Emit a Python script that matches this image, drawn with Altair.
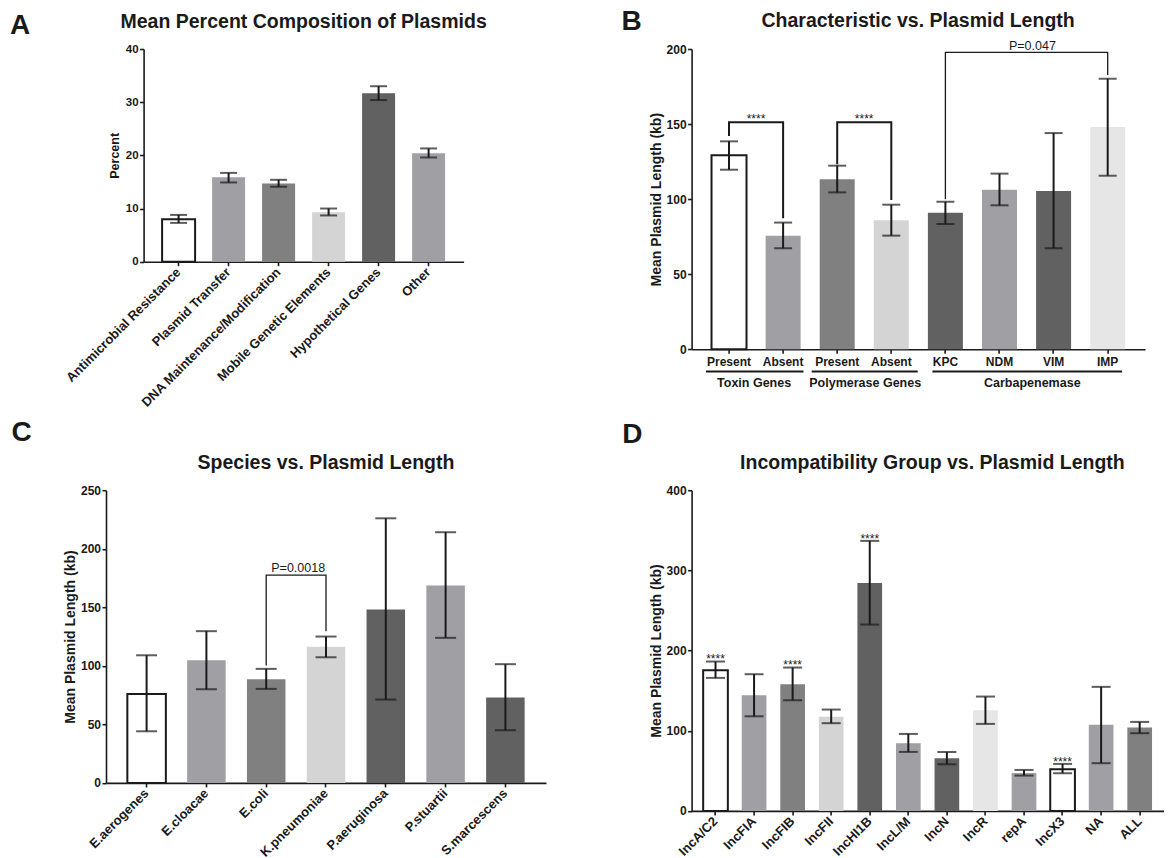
import altair as alt
import pandas as pd

FONT = "Liberation Sans"
INK = "#1a1a1a"
WHITE, G1, G2, G3, G4, G5 = "#ffffff", "#a0a0a4", "#808080", "#d4d4d4", "#616161", "#e6e6e6"

# ---------------- Panel A ----------------
a_cats = ["Antimicrobial Resistance", "Plasmid Transfer", "DNA Maintenance/Modification",
          "Mobile Genetic Elements", "Hypothetical Genes", "Other"]
a_mean = [8.0, 15.9, 14.7, 9.3, 31.7, 20.4]
a_lo = [7.3, 14.9, 14.1, 8.7, 30.4, 19.6]
a_hi = [8.8, 16.7, 15.4, 10.0, 33.0, 21.3]
a_fill = [WHITE, G1, G2, G3, G4, G1]
a_ticks = [0, 10, 20, 30, 40]

# ---------------- Panel B ----------------
b_labels = ["Present", "Absent", "Present", "Absent", "KPC", "NDM", "VIM", "IMP"]
b_group_of = ["T", "T", "P", "P", "C", "C", "C", "C"]
b_mean = [129.2, 75.7, 113.2, 85.9, 91.0, 106.3, 105.4, 148.0]
b_lo = [119.6, 67.3, 104.5, 75.7, 83.5, 95.9, 67.3, 115.6]
b_hi = [138.5, 84.4, 122.3, 96.3, 98.3, 117.0, 144.0, 180.2]
b_fill = [WHITE, G1, G2, G3, G4, G1, G4, G5]
b_ticks = [0, 50, 100, 150, 200]
b_groups = ["Toxin Genes", "Polymerase Genes", "Carbapenemase"]
b_group_keys = ["T", "P", "C"]
b_sig_left = ["T:Present", "P:Present"]
b_sig_right = ["T:Absent", "P:Absent"]
b_sig_top = [151.2, 151.2]
b_sig_left_end = [142.0, 123.2]
b_sig_right_end = [87.2, 99.4]
b_sig_text = ["****", "****"]
b_p_left = ["C:KPC"]
b_p_right = ["C:IMP"]
b_p_top = [197.8]
b_p_left_end = [99.9]
b_p_right_end = [182.7]
b_p_text = ["P=0.047"]
b_p_text_y = [199.3]

# ---------------- Panel C ----------------
c_cats = ["E.aerogenes", "E.cloacae", "E.coli", "K.pneumoniae", "P.aeruginosa", "P.stuartii", "S.marcescens"]
c_mean = [76.0, 104.8, 88.6, 116.2, 148.0, 168.6, 72.9]
c_lo = [44.1, 80.0, 80.3, 107.3, 71.2, 123.9, 45.0]
c_hi = [109.0, 129.6, 97.4, 125.0, 226.0, 214.1, 101.4]
c_fill = [WHITE, G1, G2, G3, G4, G1, G4]
c_ticks = [0, 50, 100, 150, 200, 250]
c_p_left = ["E.coli"]
c_p_right = ["K.pneumoniae"]
c_p_top = [177.4]
c_p_left_end = [100.2]
c_p_right_end = [129.6]
c_p_text = ["P=0.0018"]
c_p_text_y = [180.2]

# ---------------- Panel D ----------------
d_cats = ["IncA/C2", "IncFIA", "IncFIB", "IncFII", "IncHI1B", "IncL/M", "IncN", "IncR",
          "repA", "IncX3", "NA", "ALL"]
d_mean = [175.5, 144.3, 158.0, 117.3, 284.4, 84.4, 65.7, 125.6, 47.4, 52.0, 107.3, 104.0]
d_lo = [165.9, 118.0, 138.0, 109.4, 232.4, 73.6, 58.2, 108.5, 44.1, 47.0, 59.5, 96.9]
d_hi = [186.3, 170.5, 178.8, 126.4, 336.8, 96.0, 73.6, 142.6, 51.1, 58.6, 154.7, 111.0]
d_fill = [WHITE, G1, G2, G3, G4, G1, G4, G5, G1, WHITE, G1, G2]
d_ticks = [0, 100, 200, 300, 400]
d_star_cats = ["IncA/C2", "IncFIB", "IncHI1B", "IncX3"]
d_star_y = [184.1, 177.5, 334.6, 56.1]
d_star_text = ["****", "****", "****", "****"]


# ---------------- helpers ----------------
def x_axis(angle, size, align, baseline, pad, expr=None):
    kw = dict(labelAngle=angle, labelFontSize=size, labelFont=FONT, labelFontWeight="bold",
              labelColor=INK, labelAlign=align, labelBaseline=baseline, labelPadding=pad,
              labelLimit=400, labelOverlap=False, tickSize=4, tickWidth=1.6, tickColor=INK,
              domainColor=INK, domainWidth=1.6, grid=False, title=None)
    if expr:
        kw["labelExpr"] = expr
    return alt.Axis(**kw)


def y_axis(ticks, title, tsize, lsize, offset=0, tpad=4):
    return alt.Axis(values=ticks, title=title, titleFont=FONT, titleFontSize=tsize,
                    titleFontWeight="bold", titleColor=INK, titlePadding=tpad,
                    labelFont=FONT, labelFontSize=lsize, labelFontWeight="bold", labelColor=INK,
                    labelPadding=1.5, tickSize=4, tickWidth=1.6, tickColor=INK,
                    domainColor=INK, domainWidth=1.6, grid=False, offset=offset, format="d")


class Panel:
    def __init__(self, cats, xscale, xaxis, ysc, yaxis):
        self.cats, self.xs, self.xa, self.ys, self.ya = cats, xscale, xaxis, ysc, yaxis

    def X(self, field):
        return alt.X(f"{field}:N", sort=self.cats, scale=self.xs, axis=self.xa, title=None)

    def Y(self, field):
        return alt.Y(f"{field}:Q", scale=self.ys, axis=self.ya)


def bar_layers(p, mean, lo, hi, fill, cap):
    df = pd.DataFrame({"cat": p.cats, "mean": mean, "lo": lo, "hi": hi, "fill": fill})
    bars = alt.Chart(df).mark_bar(strokeWidth=2).encode(
        x=p.X("cat"), y=p.Y("mean"),
        fill=alt.Fill("fill:N", scale=None),
        stroke=alt.condition("datum.fill == '#ffffff'", alt.value(INK), alt.value("transparent")))
    err = alt.Chart(df).mark_rule(color=INK, strokeWidth=2).encode(
        x=p.X("cat"), y=p.Y("lo"), y2="hi:Q")
    cap_lo = alt.Chart(df).mark_tick(color=INK, thickness=2, size=cap).encode(
        x=p.X("cat"), y=p.Y("lo"))
    cap_hi = alt.Chart(df).mark_tick(color=INK, thickness=2, size=cap).encode(
        x=p.X("cat"), y=p.Y("hi"))
    return [bars, err, cap_lo, cap_hi]


def bracket_layer(p, left, right, top, lend, rend, sw):
    rows = []
    for i in range(len(left)):
        rows += [{"b": i, "o": 0, "cat": left[i], "v": lend[i]},
                 {"b": i, "o": 1, "cat": left[i], "v": top[i]},
                 {"b": i, "o": 2, "cat": right[i], "v": top[i]},
                 {"b": i, "o": 3, "cat": right[i], "v": rend[i]}]
    df = pd.DataFrame(rows)
    return alt.Chart(df).mark_line(color=INK, strokeWidth=sw, strokeJoin="miter").encode(
        x=p.X("cat"), y=p.Y("v"), detail="b:N", order="o:Q")


def note_layer(p, keys, yvals, texts, size, dx=0, dy=0, weight="normal"):
    df = pd.DataFrame({"cat": keys, "v": yvals, "t": texts})
    return alt.Chart(df).mark_text(font=FONT, fontSize=size, fontWeight=weight, color=INK,
                                   baseline="alphabetic", align="center", dx=dx, dy=dy).encode(
        x=p.X("cat"), y=p.Y("v"), text="t:N")


def free_text(txt, x, y, size, align="left", weight="bold"):
    return alt.Chart(pd.DataFrame({"t": [txt]})).mark_text(
        font=FONT, fontSize=size, fontWeight=weight, align=align, baseline="alphabetic",
        color=INK).encode(text="t:N", x=alt.value(x), y=alt.value(y))


LETTER = 28
TITLE = 19.5
ROT = 13

# ---------------- build A ----------------
a_w, a_h = 357.6, 212.7
pA = Panel(a_cats,
           alt.Scale(domain=a_cats, range=[37.6, 357.6], paddingInner=0.34, paddingOuter=0.37),
           x_axis(-45, ROT, "right", "middle", 4),
           alt.Scale(domain=[0, 40], nice=False, zero=True),
           y_axis(a_ticks, "Percent", 12.5, 11.5, offset=-37.6, tpad=4))
A = alt.layer(
    *bar_layers(pA, a_mean, a_lo, a_hi, a_fill, 17),
    free_text("A", -95.9, -15.5, LETTER),
    free_text("Mean Percent Composition of Plasmids", 197.6, -21.5, TITLE, align="center"),
).properties(width=a_w, height=a_h)

# ---------------- build B ----------------
b_keys = [f"{g}:{l}" for g, l in zip(b_group_of, b_labels)]
b_w, b_h = 453.5, 300.3
pB = Panel(b_keys,
           alt.Scale(domain=b_keys, paddingInner=0.353, paddingOuter=0.368),
           x_axis(0, 12, "center", "top", 3, expr="slice(datum.label, 2)"),
           alt.Scale(domain=[0, 200], nice=False, zero=True),
           y_axis(b_ticks, "Mean Plasmid Length (kb)", 14, 12, tpad=3))
b_line_off = [(-23, 20.4), (-25.5, 26.4), (-13, 14.4)]
b_text_dx = [25.1, 28, 86.9]
b_layers = bar_layers(pB, b_mean, b_lo, b_hi, b_fill, 18)
b_layers.append(bracket_layer(pB, b_sig_left, b_sig_right, b_sig_top, b_sig_left_end, b_sig_right_end, 2))
b_layers.append(bracket_layer(pB, b_p_left, b_p_right, b_p_top, b_p_left_end, b_p_right_end, 1.3))
b_layers.append(note_layer(pB, b_sig_left, b_sig_top, b_sig_text, 12, dx=27, dy=1))
b_layers.append(note_layer(pB, b_p_left, b_p_text_y, b_p_text, 12.5, dx=87))
for g, key, (o1, o2), tdx in zip(b_groups, b_group_keys, b_line_off, b_text_dx):
    first = b_keys[b_group_of.index(key)]
    last = b_keys[len(b_group_of) - 1 - b_group_of[::-1].index(key)]
    gdf = pd.DataFrame({"cat": [first], "z": [last], "t": [g]})
    b_layers.append(alt.Chart(gdf).mark_rule(color=INK, strokeWidth=1.8, xOffset=o1, x2Offset=o2).encode(
        x=pB.X("cat"), x2="z:N", y=alt.value(322.5)))
    b_layers.append(alt.Chart(gdf).mark_text(font=FONT, fontSize=12.5, fontWeight="bold", color=INK,
                                             baseline="alphabetic", align="center", dx=tdx).encode(
        x=pB.X("cat"), y=alt.value(337.5), text="t:N"))
b_layers.append(free_text("B", -70, -19, LETTER))
b_layers.append(free_text("Characteristic vs. Plasmid Length", 226.5, -21.8, TITLE, align="center"))
B = alt.layer(*b_layers).properties(width=b_w, height=b_h)

# ---------------- build C ----------------
c_w, c_h = 440, 292.7
pC = Panel(c_cats,
           alt.Scale(domain=c_cats, paddingInner=0.356, paddingOuter=0.357),
           x_axis(-45, ROT, "right", "middle", 4),
           alt.Scale(domain=[0, 250], nice=False, zero=True),
           y_axis(c_ticks, "Mean Plasmid  Length (kb)", 14, 12, tpad=3))
c_layers = bar_layers(pC, c_mean, c_lo, c_hi, c_fill, 21)
c_layers.append(bracket_layer(pC, c_p_left, c_p_right, c_p_top, c_p_left_end, c_p_right_end, 1.3))
c_layers.append(note_layer(pC, c_p_left, c_p_text_y, c_p_text, 12.5, dx=32))
c_layers.append(free_text("C", -94.4, -49, LETTER))
c_layers.append(free_text("Species vs. Plasmid Length", 220, -21.3, TITLE, align="center"))
C = alt.layer(*c_layers).properties(width=c_w, height=c_h)

# ---------------- build D ----------------
d_w, d_h = 472, 320.7
pD = Panel(d_cats,
           alt.Scale(domain=d_cats, paddingInner=0.36, paddingOuter=0.30),
           x_axis(-45, ROT, "right", "middle", 4),
           alt.Scale(domain=[0, 400], nice=False, zero=True),
           y_axis(d_ticks, "Mean Plasmid  Length (kb)", 14, 12, tpad=3))
d_layers = bar_layers(pD, d_mean, d_lo, d_hi, d_fill, 19)
d_layers.append(note_layer(pD, d_star_cats, d_star_y, d_star_text, 12))
d_layers.append(free_text("D", -69.3, -47.3, LETTER))
d_layers.append(free_text("Incompatibility Group vs. Plasmid Length", 240.8, -21.3, TITLE, align="center"))
D = alt.layer(*d_layers).properties(width=d_w, height=d_h)

chart = alt.concat(
    A, B, C, D, columns=2, bounds="flush", align="each",
    spacing={"row": 140.2, "column": 145.6},
    padding={"left": 2, "top": 0, "right": 0, "bottom": 0},
).configure_view(stroke=None)

chart.save("out.html", embed_options={"renderer": "svg", "actions": False})
